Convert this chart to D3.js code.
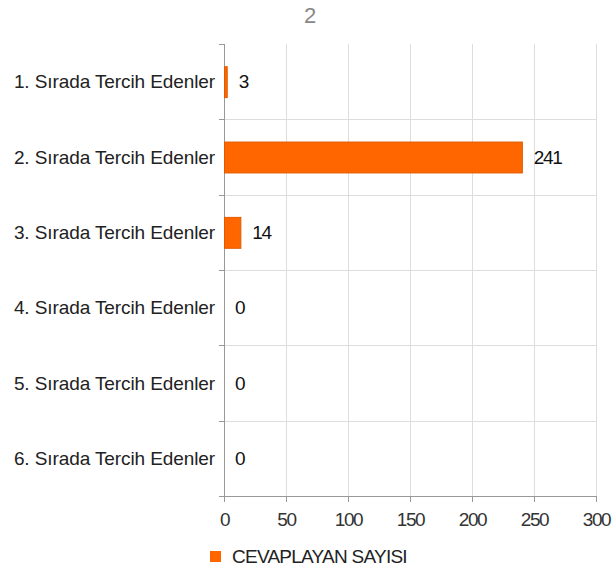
<!DOCTYPE html>
<html><head><meta charset="utf-8">
<script src="https://cdn.jsdelivr.net/npm/d3@7"></script>
<style>
body{margin:0;background:#fff;}
text{font-family:"Liberation Sans",Arial,sans-serif;}
</style></head>
<body><svg id="c" width="616" height="575"></svg>
<script>
const title = "2";
const categories = ["1. Sırada Tercih Edenler","2. Sırada Tercih Edenler","3. Sırada Tercih Edenler","4. Sırada Tercih Edenler","5. Sırada Tercih Edenler","6. Sırada Tercih Edenler"];
const values = [3, 241, 14, 0, 0, 0];
const xTicks = [0, 50, 100, 150, 200, 250, 300];
const seriesName = "CEVAPLAYAN SAYISI";

const svg = d3.select("#c");
const L = 224, R = 596, T = 44, B = 496;
const FS = 19;
const x = d3.scaleLinear().domain([0, 300]).range([L, R]);
const y = d3.scaleBand().domain(categories).range([T, B]).paddingInner(0.59).paddingOuter(0.295);
const yb = d3.scaleBand().domain(categories).range([T, B]);

svg.append("text").attr("x", 310).attr("y", 23).attr("text-anchor","middle")
  .attr("font-size", 22).attr("fill","#888").text(title);

// grid vertical
svg.append("g").selectAll("line").data(xTicks.slice(1)).join("line")
  .attr("x1", d=>x(d)+0.5).attr("x2", d=>x(d)+0.5).attr("y1", T).attr("y2", B)
  .attr("stroke","#ddd").attr("stroke-width",1);
// grid horizontal at band boundaries
const bounds = categories.map(c => yb(c) + yb.bandwidth());
svg.append("g").selectAll("line").data(bounds).join("line")
  .attr("x1", L).attr("x2", R).attr("y1", d=>Math.round(d)+0.5).attr("y2", d=>Math.round(d)+0.5)
  .attr("stroke","#ddd").attr("stroke-width",1);

// x axis
const xa = svg.append("g").attr("transform", `translate(0,${B})`)
  .call(d3.axisBottom(x).tickValues(xTicks).tickSize(6).tickPadding(11).tickFormat(d3.format("d")));
xa.select(".domain").attr("stroke","#999").attr("d", `M${L-5},0.5H${R}`);
xa.selectAll(".tick line").attr("stroke","#999");
xa.selectAll(".tick text").attr("font-size",FS).attr("fill","#333")
  .style("font-family","'Liberation Sans',Arial,sans-serif").attr("letter-spacing","-1.4");

// y axis ticks at band edges
const ya = svg.append("g");
ya.append("line").attr("x1", L+0.5).attr("x2", L+0.5).attr("y1", T).attr("y2", B+6).attr("stroke","#999");
ya.selectAll(".t").data([T].concat(bounds)).join("line").attr("class","t")
  .attr("x1", L-5).attr("x2", L).attr("y1", d=>Math.round(d)+0.5).attr("y2", d=>Math.round(d)+0.5).attr("stroke","#999");
ya.selectAll("text").data(categories).join("text")
  .attr("x", L-9).attr("y", d=>yb(d)+yb.bandwidth()/2).attr("dy","0.35em")
  .attr("text-anchor","end").attr("font-size",FS).attr("fill","#222").attr("letter-spacing","-0.1").text(d=>d);

// bars
svg.append("g").selectAll("rect").data(values.map((v,i)=>({c:categories[i],v})).filter(d=>d.v>0)).join("rect")
  .attr("x", x(0)+0.5).attr("y", d=>y(d.c)+0.5).attr("width", d=>x(d.v)-x(0)-1).attr("height", y.bandwidth())
  .attr("fill","#ff6600").attr("stroke","#e05a00").attr("stroke-width",1);

// value labels
svg.append("g").selectAll("text").data(values.map((v,i)=>({c:categories[i],v}))).join("text")
  .attr("x", d=>x(d.v)+11).attr("y", d=>yb(d.c)+yb.bandwidth()/2).attr("dy","0.35em")
  .attr("font-size",FS).attr("fill","#111").attr("letter-spacing","-1.4").text(d=>d.v);

// legend
svg.append("rect").attr("x",210).attr("y",551).attr("width",11).attr("height",11).attr("fill","#ff6600");
svg.append("text").attr("x",232).attr("y",563).attr("font-size",FS).attr("fill","#222")
  .attr("letter-spacing","-0.75").text(seriesName);
</script></body></html>
